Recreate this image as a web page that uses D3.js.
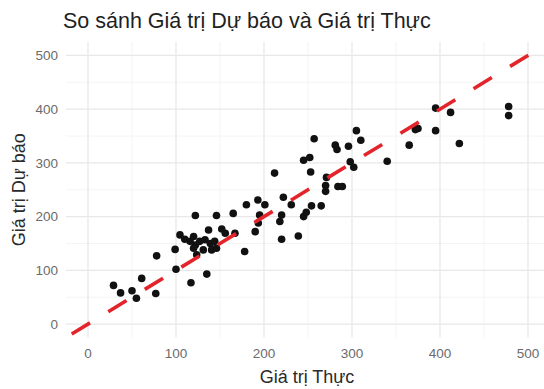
<!DOCTYPE html>
<html>
<head>
<meta charset="utf-8">
<script src="https://cdn.jsdelivr.net/npm/d3@7"></script>
<style>
  html, body { margin: 0; padding: 0; background: #fff; }
  svg { display: block; font-family: "Liberation Sans", Arial, sans-serif; }
</style>
</head>
<body>
<svg id="chart" width="544" height="389"></svg>
<script>
// Actual values (x) and forecasts (y), one entry per observation
const actual = [
  29, 37, 50, 55, 61, 77, 78, 99, 100, 117, 135,
  104.5, 110, 116, 120, 122, 127, 133, 139, 144, 146, 137, 152, 156, 167,
  120, 131, 140.5, 123.5, 178, 190, 193.5, 122, 146, 165, 180, 193, 201, 195,
  222, 231, 220, 218, 220, 239, 245, 254, 265, 248,
  212, 245, 252, 253, 257, 271, 270, 270, 284, 289,
  281, 283, 296, 305, 310, 298, 302, 340, 365, 372, 375,
  395, 395, 412, 422, 478, 478
];
const predicted = [
  72, 58, 62, 48, 85, 57, 127, 139, 102, 77, 93,
  166, 158, 154, 163, 147, 154, 157, 150, 154, 141, 175, 177, 169, 169,
  141, 138, 138, 129, 135, 172, 188, 202, 202, 206, 222, 231, 222, 203,
  236, 222, 203, 191, 158, 164, 200, 220, 220, 208,
  281, 305, 310, 283, 345, 273, 258, 247, 256, 256,
  333, 325, 331, 360, 342, 302, 292, 303, 333, 362, 364,
  402, 360, 394, 336, 405, 388
];
const xTicks = [0, 100, 200, 300, 400, 500];
const yTicks = [0, 100, 200, 300, 400, 500];
const xMinor = [50, 150, 250, 350, 450];
const yMinor = [50, 150, 250, 350, 450];

const titleText = "So sánh Giá trị Dự báo và Giá trị Thực";
const xTitle = "Giá trị Thực";
const yTitle = "Giá trị Dự báo";

const W = 544, H = 389;
const panel = { left: 66, right: 550, top: 42, bottom: 337.5 };

const x = d3.scaleLinear().domain([-25, 525]).range([panel.left, panel.right]);
const y = d3.scaleLinear().domain([-25, 525]).range([panel.bottom, panel.top]);

const svg = d3.select("#chart");

svg.append("defs").append("clipPath").attr("id", "panel-clip")
  .append("rect")
  .attr("x", panel.left).attr("y", panel.top)
  .attr("width", Math.min(panel.right, W) - panel.left)
  .attr("height", panel.bottom - panel.top);

const grid = svg.append("g").attr("clip-path", "url(#panel-clip)");

// minor grid
grid.selectAll(".vminor").data(xMinor).join("line")
  .attr("x1", d => x(d)).attr("x2", d => x(d))
  .attr("y1", panel.top).attr("y2", panel.bottom)
  .attr("stroke", "#f1f1f1").attr("stroke-width", 0.8);
grid.selectAll(".hminor").data(yMinor).join("line")
  .attr("y1", d => y(d)).attr("y2", d => y(d))
  .attr("x1", panel.left).attr("x2", panel.right)
  .attr("stroke", "#f1f1f1").attr("stroke-width", 0.8);

// major grid
grid.selectAll(".vmajor").data(xTicks).join("line")
  .attr("x1", d => x(d)).attr("x2", d => x(d))
  .attr("y1", panel.top).attr("y2", panel.bottom)
  .attr("stroke", "#e8e8e8").attr("stroke-width", 1.3);
grid.selectAll(".hmajor").data(yTicks).join("line")
  .attr("y1", d => y(d)).attr("y2", d => y(d))
  .attr("x1", panel.left).attr("x2", panel.right)
  .attr("stroke", "#e8e8e8").attr("stroke-width", 1.3);

// points
const marks = svg.append("g").attr("clip-path", "url(#panel-clip)");
marks.selectAll("circle").data(actual.map((a, i) => [a, predicted[i]])).join("circle")
  .attr("cx", d => x(d[0]))
  .attr("cy", d => y(d[1]))
  .attr("r", 3.8)
  .attr("fill", "#111");

// identity reference line y = x
const lineStart = [-25, -25], lineEnd = [525, 525];
const dash = 21.4;
marks.append("line")
  .attr("x1", x(lineStart[0])).attr("y1", y(lineStart[1]))
  .attr("x2", x(lineEnd[0])).attr("y2", y(lineEnd[1]))
  .attr("stroke", "#e3242b")
  .attr("stroke-width", 3.6)
  .attr("stroke-dasharray", dash + " " + dash)
  .attr("stroke-dashoffset", 2 * dash - 6.7);

// x tick labels
svg.append("g").selectAll("text").data(xTicks).join("text")
  .attr("x", d => x(d)).attr("y", 358)
  .attr("text-anchor", "middle")
  .attr("font-size", 13.5)
  .attr("fill", "#6b6b6b")
  .text(d => d);

// y tick labels
svg.append("g").selectAll("text").data(yTicks).join("text")
  .attr("x", 58).attr("y", d => y(d))
  .attr("dy", "0.36em")
  .attr("text-anchor", "end")
  .attr("font-size", 13.5)
  .attr("fill", "#6b6b6b")
  .text(d => d);

// axis titles
svg.append("text")
  .attr("x", (panel.left + W) / 2 + 2).attr("y", 383)
  .attr("text-anchor", "middle")
  .attr("font-size", 18)
  .attr("fill", "#2a2a2a")
  .text(xTitle);

svg.append("text")
  .attr("transform", `translate(24.5, ${(panel.top + panel.bottom) / 2}) rotate(-90)`)
  .attr("text-anchor", "middle")
  .attr("font-size", 18)
  .attr("fill", "#2a2a2a")
  .text(yTitle);

// chart title
svg.append("text")
  .attr("x", 63).attr("y", 27.5)
  .attr("font-size", 21.5)
  .attr("fill", "#1f1f1f")
  .text(titleText);
</script>
</body>
</html>
